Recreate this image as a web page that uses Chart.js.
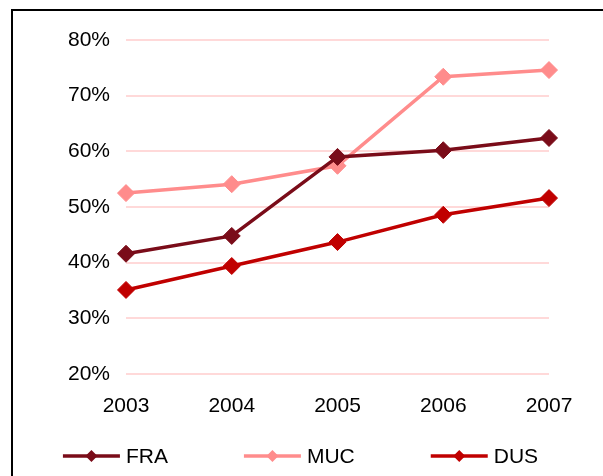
<!DOCTYPE html>
<html>
<head>
<meta charset="utf-8">
<script src="https://cdn.jsdelivr.net/npm/chart.js@4"></script>
<style>
  html, body { margin: 0; padding: 0; background: #fff; }
  #wrap { position: relative; width: 603px; height: 476px; overflow: hidden; }
  #frame {
    position: absolute; left: 11px; top: 9px; width: 700px; height: 600px;
    border-top: 2px solid #000; border-left: 2px solid #000;
  }
  #chart { position: absolute; left: 0; top: 0; }
</style>
</head>
<body>
<div id="wrap">
  <div id="frame"></div>
  <canvas id="chart" width="603" height="476"></canvas>
</div>
<script>
  // chart values
  const years = ["2003", "2004", "2005", "2006", "2007"];
  const fra = [41.6, 44.8, 59.0, 60.2, 62.4];
  const muc = [52.5, 54.1, 57.4, 73.4, 74.6];
  const dus = [35.1, 39.4, 43.7, 48.6, 51.6];
  const seriesNames = ["FRA", "MUC", "DUS"];
  const seriesColors = ["#7a0c19", "#ff8c8c", "#c00000"];
  const yMin = 20;
  const yMax = 80;
  const yStep = 10;

  const font = "Liberation Sans, Arial, sans-serif";

  function makeSeries(i, values) {
    return {
      label: seriesNames[i],
      data: values,
      borderColor: seriesColors[i],
      backgroundColor: seriesColors[i],
      borderWidth: 3.5,
      pointStyle: "rectRot",
      pointRadius: 8.5,
      pointBorderWidth: 1,
      pointBackgroundColor: seriesColors[i],
      pointBorderColor: seriesColors[i],
      tension: 0,
    };
  }

  // legend row drawn at the bottom: line with a diamond, then the name
  const lineLegend = {
    id: "lineLegend",
    afterDraw(chart) {
      const ctx = chart.ctx;
      const lineLen = 57, gap = 6, itemGap = 76, cy = 456, cx = 300.5;
      ctx.save();
      ctx.font = "21px " + font;
      const sets = chart.data.datasets;
      const widths = sets.map((d) => lineLen + gap + ctx.measureText(d.label).width);
      const total = widths.reduce((a, b) => a + b, 0) + itemGap * (sets.length - 1);
      let x = cx - total / 2;
      sets.forEach((d, i) => {
        ctx.strokeStyle = d.borderColor;
        ctx.fillStyle = d.borderColor;
        ctx.lineWidth = 3.5;
        ctx.beginPath();
        ctx.moveTo(x, cy);
        ctx.lineTo(x + lineLen, cy);
        ctx.stroke();
        const mx = x + lineLen / 2, r = 6;
        ctx.beginPath();
        ctx.moveTo(mx - r, cy);
        ctx.lineTo(mx, cy - r);
        ctx.lineTo(mx + r, cy);
        ctx.lineTo(mx, cy + r);
        ctx.closePath();
        ctx.fill();
        ctx.fillStyle = "#000";
        ctx.textBaseline = "middle";
        ctx.textAlign = "left";
        ctx.fillText(d.label, x + lineLen + gap, cy + 1);
        x += widths[i] + itemGap;
      });
      ctx.restore();
    },
  };

  const chart = new Chart(document.getElementById("chart"), {
    type: "line",
    data: {
      labels: years,
      datasets: [makeSeries(0, fra), makeSeries(1, muc), makeSeries(2, dus)],
    },
    options: {
      responsive: false,
      animation: false,
      layout: { padding: { top: 40, right: 54, bottom: 52, left: 0 } },
      plugins: {
        legend: { display: false },
        tooltip: { enabled: false },
      },
      scales: {
        x: {
          offset: false,
          grid: { display: false },
          border: { display: false },
          ticks: { color: "#000", font: { family: font, size: 21 }, padding: 12, maxRotation: 0 },
          afterFit: (scale) => { scale.height = 50; },
        },
        y: {
          min: yMin,
          max: yMax,
          grid: { color: "#ffd9d9", lineWidth: 2, drawTicks: false },
          border: { display: false },
          ticks: {
            stepSize: yStep,
            color: "#000",
            font: { family: font, size: 21 },
            padding: 16,
            callback: (v) => v + "%",
          },
          afterFit: (scale) => { scale.width = 126; },
        },
      },
    },
    plugins: [lineLegend],
  });
</script>
</body>
</html>
